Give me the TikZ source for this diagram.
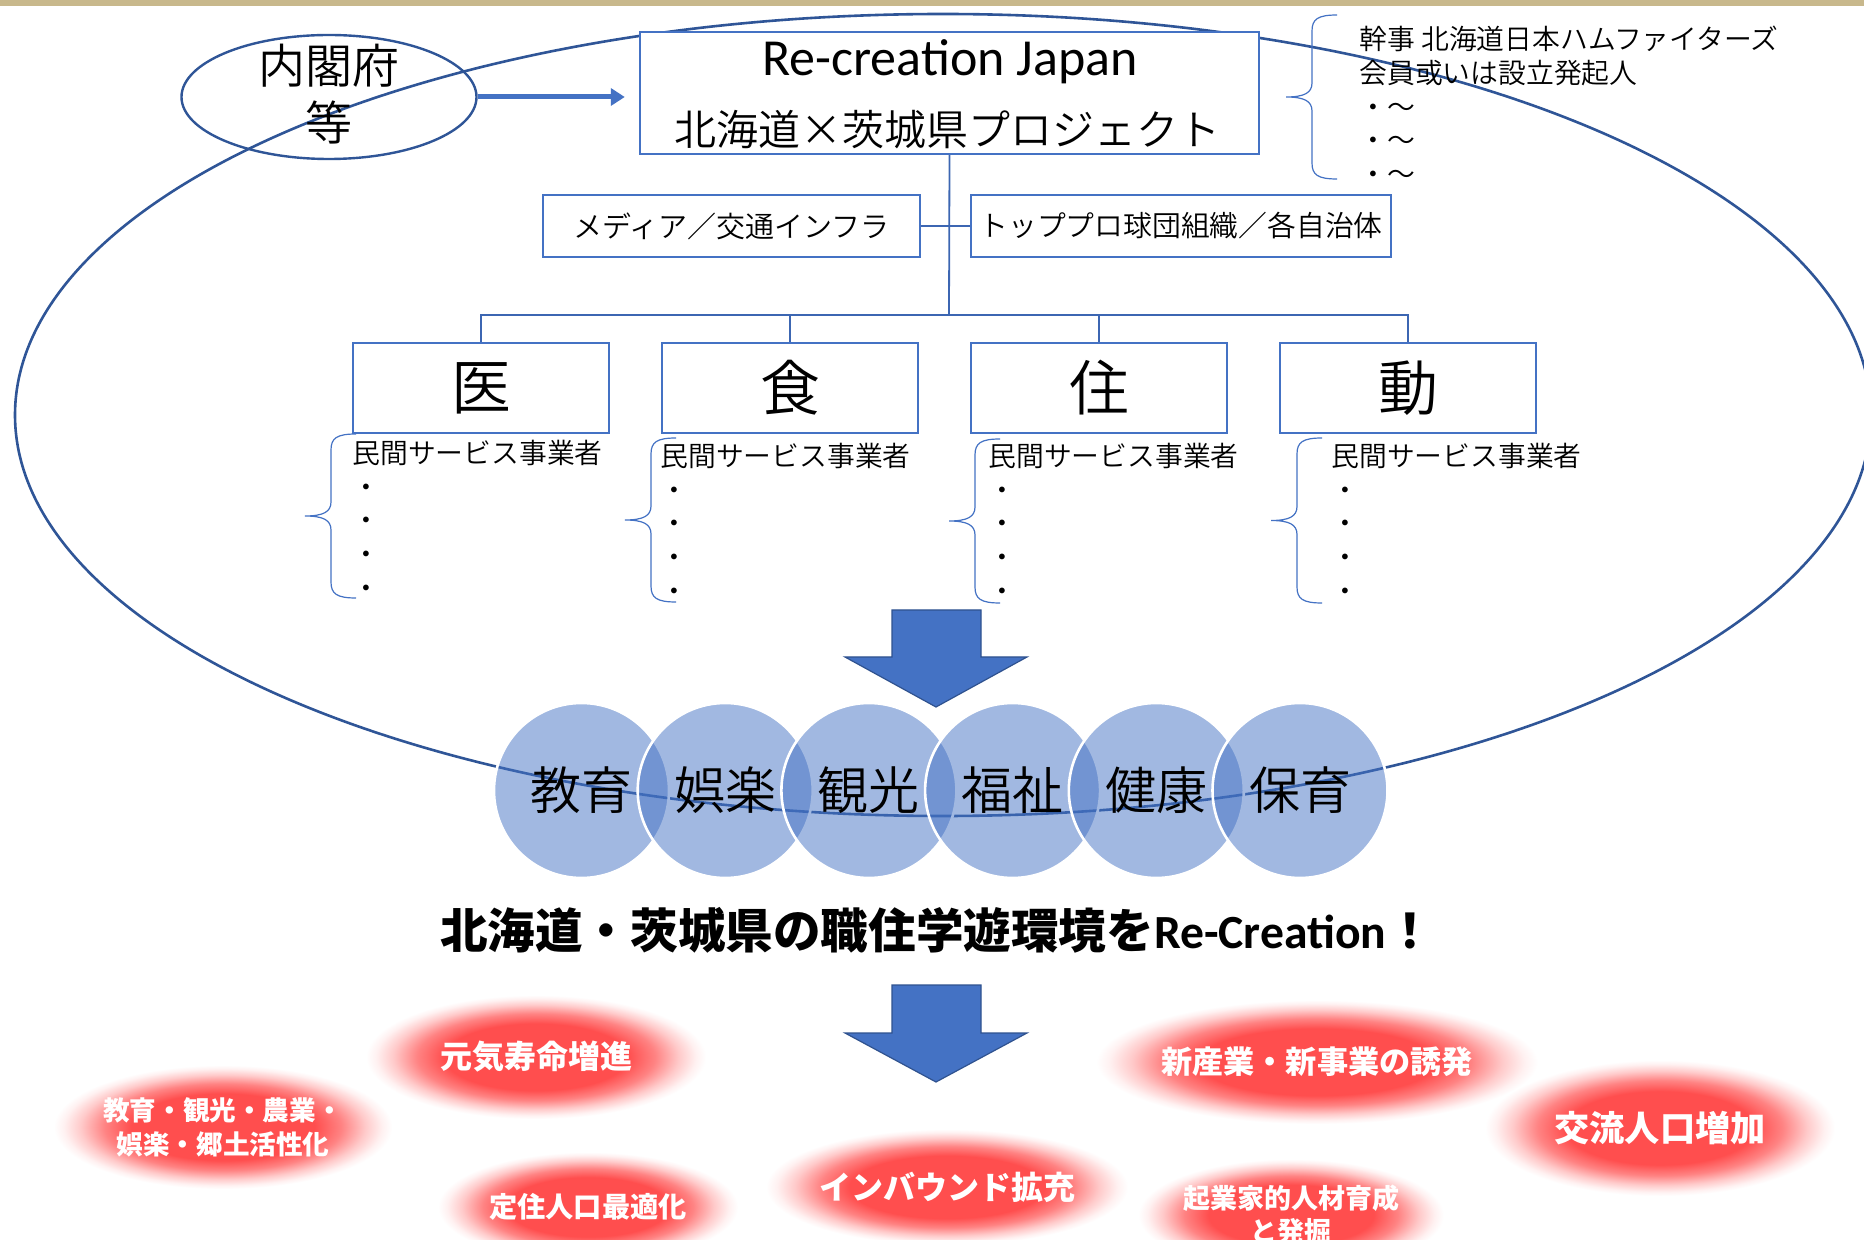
\documentclass[tikz,border=0pt]{standalone}
\usepackage{fontspec}
\setmainfont{Carlito}
\IfFontExistsTF{Noto Sans CJK JP DemiLight}{\newfontfamily\jp{Noto Sans CJK JP DemiLight}}{\newfontfamily\jp{Noto Sans CJK JP}}
\newfontfamily\jpb{Noto Sans CJK JP}
\usetikzlibrary{shapes.geometric,arrows.meta}
\definecolor{boxblue}{HTML}{4472C4}
\definecolor{ringblue}{HTML}{2F5597}
\definecolor{linkblue}{HTML}{3C66B2}
\definecolor{bandtan}{RGB}{200,184,140}
\definecolor{blobred}{RGB}{255,78,78}
\definecolor{arrowedge}{HTML}{2F528F}
\pgfdeclareradialshading{blobglow}{\pgfpoint{0bp}{0bp}}{color(0bp)=(blobred); color(13.5bp)=(blobred); color(17.5bp)=(blobred!70!white); color(21bp)=(blobred!30!white); color(23.5bp)=(blobred!8!white); color(25bp)=(white); color(50bp)=(white)}
\newcommand{\gfont}[2]{\jpb\bfseries\fontsize{#1}{#2}\selectfont}
\newcommand{\mybrace}[3]{%
 \pgfmathsetmacro{\brmid}{(#2+#3)/2}%
 \draw[brc] ({#1+25},#2) .. controls ({#1+6},#2) and (#1,{#2+4}) .. (#1,{#2+16})
   -- (#1,{\brmid-14}) .. controls (#1,{\brmid-4}) and ({#1-8},\brmid) .. ({#1-26},\brmid)
   .. controls ({#1-8},\brmid) and (#1,{\brmid+4}) .. (#1,{\brmid+14})
   -- (#1,{#3-16}) .. controls (#1,{#3-4}) and ({#1+6},#3) .. ({#1+25},#3);}
\tikzset{
 pbox/.style={draw=boxblue, line width=1.2pt, fill=white, inner sep=0pt},
 link/.style={draw=linkblue, line width=0.9pt},
 brc/.style={draw=boxblue, line width=0.6pt},
 sector/.style={circle, minimum size=87.5pt, inner sep=0pt, fill=boxblue, fill opacity=0.5, text opacity=1, draw=white, draw opacity=1, line width=1.3pt, font=\jp\fontsize{25.5}{30}\selectfont},
 glow/.style={ellipse, inner sep=0pt, shading=blobglow, text=white, align=center},
 bigarrow/.style={fill=boxblue, draw=arrowedge, line width=0.6pt},
 coltext/.style={font=\jp\fontsize{13.9}{16.8}\selectfont, align=left, anchor=north west, inner sep=0pt},
 kanjibox/.style={font=\jp\fontsize{30}{34}\selectfont}
}
\begin{document}
\begin{tikzpicture}[x=0.5pt,y=-0.5pt]
\useasboundingbox (0,0) rectangle (1864,1240);
\clip (0,0) rectangle (1864,1240);
\fill[white] (0,0) rectangle (1864,1240);
\fill[bandtan] (0,0) rectangle (1864,6);

% large ring
\draw[ringblue, line width=1.3pt] (943,415) ellipse [x radius=464pt, y radius=200.5pt];

% cabinet office
\node[ellipse, draw=ringblue, line width=1.2pt, minimum width=147.5pt, minimum height=62pt, inner sep=0pt] (nk) at (329,97) {};
\node[font=\jp\fontsize{23.5}{28.5}\selectfont, align=center, inner sep=0pt] (nkt) at (329,94) {内閣府\\等};

% main box
\node[pbox, minimum width=309.5pt, minimum height=61pt] (rc) at (949.5,93) {};
\node[font=\fontsize{26}{30}\selectfont, anchor=base, inner sep=0pt] (rct1) at (950,76) {Re-creation Japan};
\node[font=\jp\fontsize{21}{25}\selectfont, inner sep=0pt] (rct2) at (947,130) {北海道×茨城県プロジェクト};

\draw[boxblue, line width=2.5pt, -{Triangle[length=7pt,width=8.5pt]}, shorten >=7pt] (nk.east) -- (nk.east -| rc.west);

% members
\node[font=\jp\fontsize{13.9}{16.8}\selectfont, align=left, anchor=north west, inner sep=0pt] (members) at (1359,26) {幹事 北海道日本ハムファイターズ\\会員或いは設立発起人\\・～\\・～\\・～};
\mybrace{1312}{15}{179}

% second row
\node[pbox, minimum width=188.5pt, minimum height=31pt, font=\jp\fontsize{14.5}{17}\selectfont] (media) at (731.5,226) {メディア／交通インフラ};
\node[pbox, minimum width=210pt, minimum height=31pt, font=\jp\fontsize{14.4}{17}\selectfont] (pro) at (1181,226) {トッププロ球団組織／各自治体};

% four fields
\node[pbox, minimum width=128pt, minimum height=45pt, kanjibox] (b1) at (481,388) {医};
\node[pbox, minimum width=128pt, minimum height=45pt, kanjibox] (b2) at (790,388) {食};
\node[pbox, minimum width=128pt, minimum height=45pt, kanjibox] (b3) at (1099,388) {住};
\node[pbox, minimum width=128pt, minimum height=45pt, kanjibox] (b4) at (1408,388) {動};

\coordinate (hub) at (949,315);
\draw[link] (rc.south) -- (hub);
\draw[link] (media.east) -- (pro.west);
\draw[link] (b1.north) |- (hub) -| (b4.north);
\draw[link] (b2.north) -- (b2.north |- hub);
\draw[link] (b3.north) -- (b3.north |- hub);

% providers
\node[coltext] (c1) at (352,440) {民間サービス事業者\\・\\・\\・\\・};
\node[coltext] (c2) at (660,443) {民間サービス事業者\\・\\・\\・\\・};
\node[coltext] (c3) at (988,443) {民間サービス事業者\\・\\・\\・\\・};
\node[coltext] (c4) at (1331,443) {民間サービス事業者\\・\\・\\・\\・};
\mybrace{331}{434}{598}
\mybrace{651}{438}{602}
\mybrace{975}{439}{603}
\mybrace{1297}{438}{603}

% arrows
\draw[bigarrow] (892,610) -- (981,610) -- (981,657) -- (1027,657) -- (936,707) -- (845,657) -- (892,657) -- cycle;
\draw[bigarrow] (892,985) -- (981,985) -- (981,1033) -- (1027,1033) -- (936,1082) -- (845,1033) -- (892,1033) -- cycle;

% sectors
\node[sector] (s1) at (581.5,790.5) {教育};
\node[sector] (s2) at (725.2,790.5) {娯楽};
\node[sector] (s3) at (868.9,790.5) {観光};
\node[sector] (s4) at (1012.6,790.5) {福祉};
\node[sector] (s5) at (1156.3,790.5) {健康};
\node[sector] (s6) at (1300,790.5) {保育};

% slogan
\node[font=\bfseries\fontsize{23.8}{28}\selectfont, inner sep=0pt] (slogan) at (937,930) {{\jpb 北海道・茨城県の職住学遊環境を}Re-Creation{\jpb ！}};

% outcomes
\node[glow, minimum width=170pt, minimum height=62pt, font=\gfont{16}{19}] (g1) at (536,1057) {元気寿命増進};
\node[glow, minimum width=160pt, minimum height=62pt, font=\gfont{13.3}{17}] (g2) at (223,1127) {教育・観光・農業・\\娯楽・郷土活性化};
\node[glow, minimum width=150pt, minimum height=55pt, font=\gfont{14.1}{17}] (g3) at (588,1207) {定住人口最適化};
\node[glow, minimum width=165pt, minimum height=58pt, font=\gfont{16}{19}] (g4) at (947,1187) {インバウンド拡充};
\node[glow, minimum width=200pt, minimum height=62pt, font=\gfont{15.6}{19}] (g5) at (1317,1062) {新産業・新事業の誘発};
\node[glow, minimum width=175pt, minimum height=68pt, font=\gfont{17.6}{21}] (g6) at (1660,1128) {交流人口増加};
\node[glow, minimum width=150pt, minimum height=56pt, font=\gfont{13.5}{16.5}] (g7) at (1291,1215) {起業家的人材育成\\と発掘};
\end{tikzpicture}
\end{document}
